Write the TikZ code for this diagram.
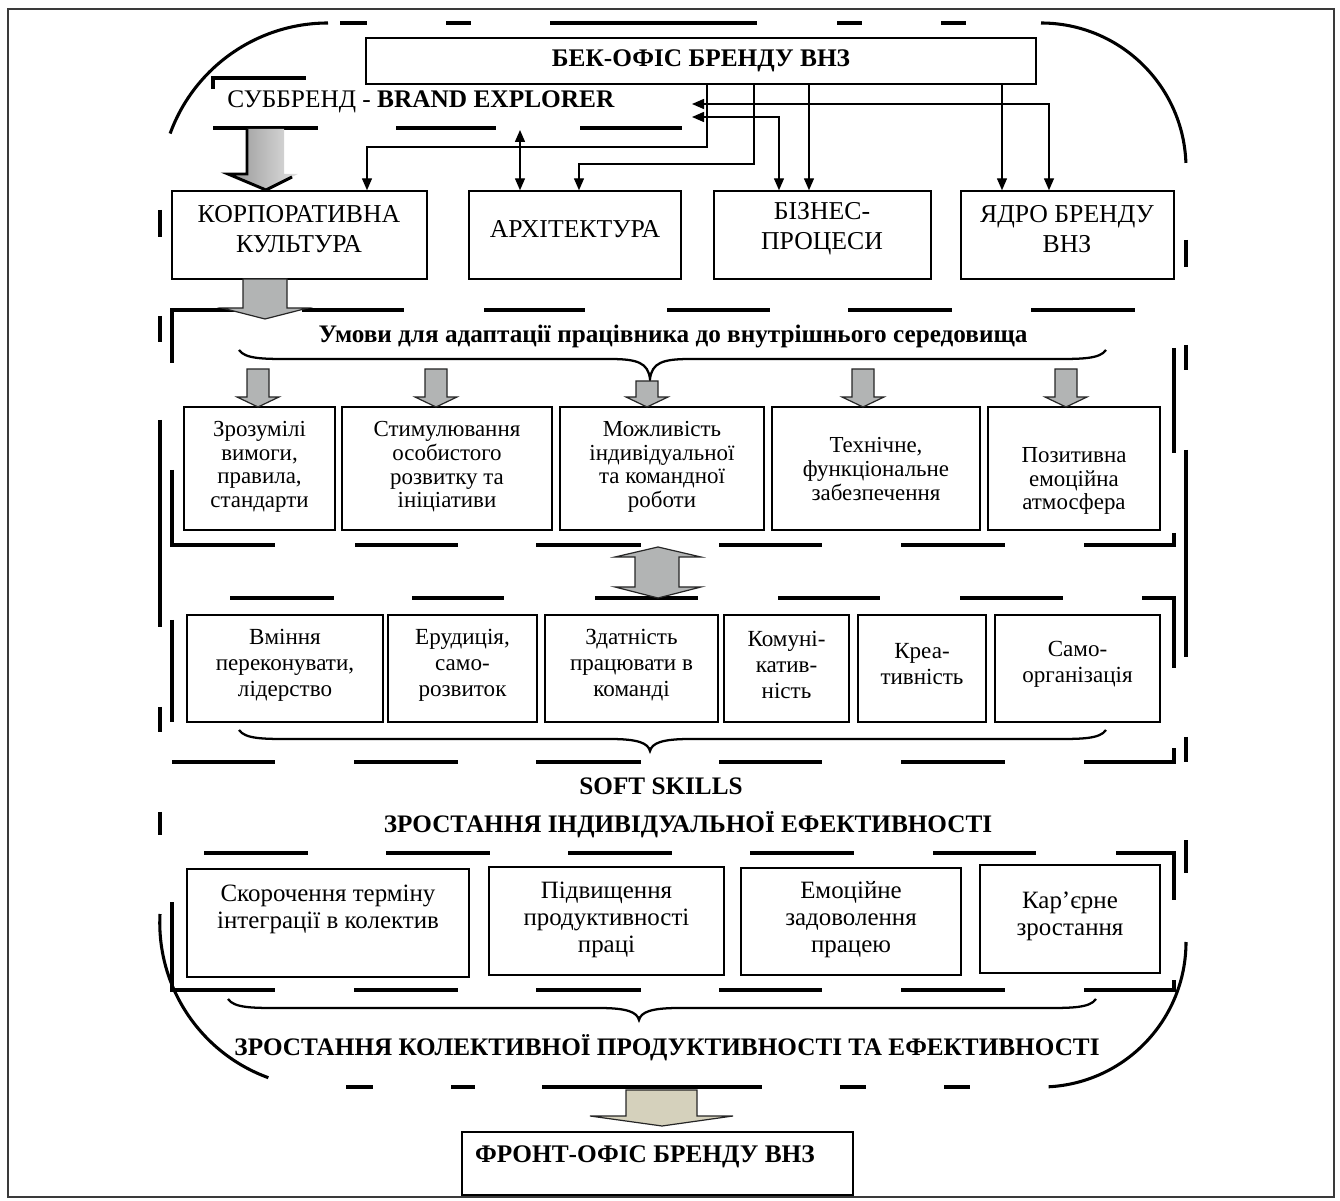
\documentclass[tikz,border=0pt]{standalone}
\usepackage{fontspec}
\setmainfont{Liberation Serif}
\usetikzlibrary{arrows.meta,calc}
\definecolor{arrgray}{HTML}{B2B4B4}
\definecolor{beigefill}{HTML}{D5D1BC}
\definecolor{framegray}{HTML}{3A3A3A}
\newcommand\BoxAt[5]{\node[box, minimum width={(#4-#2)*0.75pt}, minimum height={(#5-#3)*0.75pt}] (#1) at ({(#2+#4)/2},{(#3+#5)/2}) {};}
\newcommand\SmallDown[2]{\draw[blockarrow] ({#1-11},#2) -- ({#1-11},397) -- ({#1-21},397) -- (#1,407) -- ({#1+21},397) -- ({#1+11},397) -- ({#1+11},#2) -- cycle;}
\newcommand\BraceAt[6]{\draw[brc] (#1,#3) .. controls ({#1+6},#4) and ({#1+25},#4) .. ({#1+50},#4) -- ({#5-40},#4) .. controls ({#5-12},#4) and ({#5-2},{#4+4}) .. (#5,#6) .. controls ({#5+2},{#4+4}) and ({#5+12},#4) .. ({#5+40},#4) -- ({#2-50},#4) .. controls ({#2-25},#4) and ({#2-6},#4) .. (#2,#3);}
\newcommand\fTitle{\fontsize{19}{22}\selectfont}
\newcommand\fHead{\fontsize{18.9}{21}\selectfont\bfseries}
\newcommand\fRowA{\fontsize{19.3}{22.5}\selectfont}
\newcommand\fRowB{\fontsize{17.2}{17.7}\selectfont}
\newcommand\fRowC{\fontsize{17.3}{19.6}\selectfont}
\newcommand\fRowD{\fontsize{18.7}{20.3}\selectfont}
\begin{document}
\begin{tikzpicture}[x=0.75pt,y=-0.75pt,
  box/.style={draw=black, line width=1.1pt, fill=white, inner sep=0pt},
  dl/.style={line width=2.3pt},
  brc/.style={line width=1.7pt},
  conn/.style={line width=1.1pt, -{Triangle[length=9pt,width=7.5pt]}},
  conn2/.style={line width=1.1pt, {Triangle[length=9pt,width=7.5pt]}-{Triangle[length=9pt,width=7.5pt]}},
  txt/.style={align=center, inner sep=0pt},
  blockarrow/.style={fill=arrgray, draw=black!85, line width=0.9pt, line join=miter}]
\useasboundingbox (0,0) rectangle (1340,1201);
% outer frame
\draw[line width=1.6pt, draw=framegray] (8,9) rectangle (1334,1197);

% outer rounded dashed contour
\foreach \a/\b in {340/367,446/471,550/757,837/862,941/966} \draw[dl] (\a,23) -- (\b,23);
\foreach \a/\b in {346/373,451/475,542/762,840/866,944/970} \draw[dl] (\a,1087) -- (\b,1087);
\foreach \a/\b in {210/237,316/342,420/627,707/732,812/835} \draw[dl] (160,\a) -- (160,\b);
\foreach \a/\b in {240/267,345/370,450/657,737/762,840/873} \draw[dl] (1186,\a) -- (1186,\b);
\draw[dl] (328,23) arc[start angle=-90, end angle=-160, radius=168];
\draw[dl] (1041,23) arc[start angle=-90, end angle=-2, radius=145];
\draw[dl] (160,914) arc[start angle=183, end angle=110, radius=165];
\draw[dl] (1186,942) arc[start angle=0, end angle=87, radius=145];

% subbrand dashed frame
\draw[dl] (213,89) -- (213,78) -- (306,78);
\foreach \a/\b in {213/318,396/496,580/682} \draw[dl] (\a,128) -- (\b,128);

% box A dashed frame
\draw[dl] (172,363) -- (172,310) -- (240,310);
\foreach \a/\b in {302/404,484/585,667/770,848/952,1031/1135} \draw[dl] (\a,310) -- (\b,310);
\draw[dl] (1174,348) -- (1174,453);
\draw[dl] (1174,533) -- (1174,545) -- (1084,545);
\draw[dl] (172,470) -- (172,545) -- (275,545);
\foreach \a/\b in {355/458,536/641,719/822,901/1005} \draw[dl] (\a,545) -- (\b,545);

% box B dashed frame
\foreach \a/\b in {230/334,412/504,595/698,778/880,960/1063} \draw[dl] (\a,598) -- (\b,598);
\draw[dl] (1142,598) -- (1174,598) -- (1174,668);
\draw[dl] (172,620) -- (172,722);
\foreach \a/\b in {172/275,354/458,536/641,719/822,901/1005} \draw[dl] (\a,762) -- (\b,762);
\draw[dl] (1084,762) -- (1174,762) -- (1174,748);

% box C dashed frame
\foreach \a/\b in {204/308,386/490,568/672,750/854,933/1036} \draw[dl] (\a,853) -- (\b,853);
\draw[dl] (1116,853) -- (1174,853) -- (1174,900);
\draw[dl] (172,902) -- (172,990) -- (275,990);
\foreach \a/\b in {354/458,536/641,719/822,901/1005} \draw[dl] (\a,990) -- (\b,990);
\draw[dl] (1084,990) -- (1174,990) -- (1174,980);

% boxes
\node[box, minimum width={670*0.75pt}, minimum height={46*0.75pt}, font=\fTitle\bfseries] (bek) at (701,61) {БЕК-ОФІС БРЕНДУ ВНЗ};
\BoxAt{korp}{172}{191}{427}{279}
\BoxAt{arch}{469}{191}{681}{279}
\BoxAt{biz}{714}{191}{931}{279}
\BoxAt{core}{961}{191}{1174}{279}
\BoxAt{ra}{184}{407}{335}{530}
\BoxAt{rb}{342}{407}{552}{530}
\BoxAt{rc}{560}{407}{764}{530}
\BoxAt{rd}{772}{407}{980}{530}
\BoxAt{re}{988}{407}{1160}{530}
\BoxAt{sa}{187}{615}{383}{722}
\BoxAt{sb}{388}{615}{537}{722}
\BoxAt{sc}{545}{615}{718}{722}
\BoxAt{sd}{724}{615}{849}{722}
\BoxAt{se}{858}{615}{986}{722}
\BoxAt{sf}{995}{615}{1160}{722}
\BoxAt{ga}{187}{869}{469}{977}
\BoxAt{gb}{489}{867}{724}{975}
\BoxAt{gc}{741}{868}{961}{975}
\BoxAt{gd}{980}{865}{1160}{973}
\BoxAt{front}{462}{1132}{853}{1195}

% braces
\BraceAt{239}{1106}{350}{359}{650}{379}
\BraceAt{239}{1106}{730}{739}{650}{751}
\BraceAt{228}{1096}{999}{1008}{639}{1020}

% block arrows
\shade[left color=black!42, right color=black!12] (247,129) -- (247,174) -- (228,174) -- (266,190) -- (298,174) -- (284,174) -- (284,129) -- cycle;
\draw[line width=2.2pt, line join=miter] (247,129) -- (247,174) -- (228,174) -- (266,190) -- (292,177);
\draw[blockarrow] (243,279) -- (243,308) -- (222,308) -- (265,319) -- (308,308) -- (287,308) -- (287,279) -- cycle;
\SmallDown{258}{369}
\SmallDown{436}{369}
\SmallDown{647}{381}
\SmallDown{863}{369}
\SmallDown{1066}{369}
\draw[blockarrow] (658,547) -- (701,557) -- (679,557) -- (679,587) -- (701,587) -- (658,598) -- (615,587) -- (635,587) -- (635,557) -- (615,557) -- cycle;
\draw[blockarrow, fill=beigefill] (626,1090) -- (626,1116) -- (590,1116) -- (662,1126) -- (733,1116) -- (697,1116) -- (697,1090) -- cycle;

% texts
\node[txt, font=\fTitle] (sub) at (421,102) {СУББРЕНД - \textbf{BRAND EXPLORER}};
\coordinate (subA) at (692,104);
\coordinate (subB) at (692,117);
\coordinate (subC) at (520,130);
\node[txt, font=\fRowA] (korpT) at (299,229) {КОРПОРАТИВНА\\КУЛЬТУРА};
\node[txt, font=\fRowA] (archT) at (575,229) {АРХІТЕКТУРА};
\node[txt, font=\fRowA] (bizT) at (822,229) {БІЗНЕС-\\ПРОЦЕСИ};
\node[txt, font=\fRowA] (coreT) at (1067,229) {ЯДРО БРЕНДУ\\ВНЗ};
\node[txt, font=\fHead] (umovy) at (673,336) {Умови для адаптації працівника до внутрішнього середовища};
\node[txt, font=\fRowB] (raT) at (259.5,467) {Зрозумілі\\вимоги,\\правила,\\стандарти};
\node[txt, font=\fRowB] (rbT) at (447,467) {Стимулювання\\особистого\\розвитку та\\ініціативи};
\node[txt, font=\fRowB] (rcT) at (662,467) {Можливість\\індивідуальної\\та командної\\роботи};
\node[txt, font=\fRowB] (rdT) at (876,469) {Технічне,\\функціональне\\забезпечення};
\node[txt, font=\fRowB] (reT) at (1074,481) {Позитивна\\емоційна\\атмосфера};
\node[txt, font=\fRowC] (saT) at (285,665) {Вміння\\переконувати,\\лідерство};
\node[txt, font=\fRowC] (sbT) at (462.5,665) {Ерудиція,\\само-\\розвиток};
\node[txt, font=\fRowC] (scT) at (631.5,665) {Здатність\\працювати в\\команді};
\node[txt, font=\fRowC] (sdT) at (786.5,665) {Комуні-\\катив-\\ність};
\node[txt, font=\fRowC] (seT) at (922,664) {Креа-\\тивність};
\node[txt, font=\fRowC] (sfT) at (1077.5,664) {Само-\\організація};
\node[txt, font=\fHead] (soft) at (661,786) {SOFT SKILLS};
\node[txt, font=\fHead] (indiv) at (688,825) {ЗРОСТАННЯ ІНДИВІДУАЛЬНОЇ ЕФЕКТИВНОСТІ};
\node[txt, font=\fRowD] (gaT) at (328,909) {Скорочення терміну\\інтеграції в колектив};
\node[txt, font=\fRowD] (gbT) at (606.5,920) {Підвищення\\продуктивності\\праці};
\node[txt, font=\fRowD] (gcT) at (851,920) {Емоційне\\задоволення\\працею};
\node[txt, font=\fRowD] (gdT) at (1070,916) {Кар’єрне\\зростання};
\node[txt, font=\fHead] (coll) at (667,1048) {ЗРОСТАННЯ КОЛЕКТИВНОЇ ПРОДУКТИВНОСТІ ТА ЕФЕКТИВНОСТІ};
\node[txt, font=\fTitle\bfseries] (frontT) at (645,1157) {ФРОНТ-ОФІС БРЕНДУ ВНЗ};

% connectors
\draw[conn] (bek.south -| 707,0) |- (367,147) -- (korp.north -| 367,0);
\draw[conn] (bek.south -| 754,0) |- (579,164) -- (arch.north -| 579,0);
\draw[conn] (bek.south -| 809,0) -- (biz.north -| 809,0);
\draw[conn] (bek.south -| 1002,0) -- (core.north -| 1002,0);
\draw[conn2] (subA) -| (core.north -| 1049,0);
\draw[conn2] (subB) -| (biz.north -| 779,0);
\draw[conn2] (subC) -- (arch.north -| subC);
\end{tikzpicture}
\end{document}
